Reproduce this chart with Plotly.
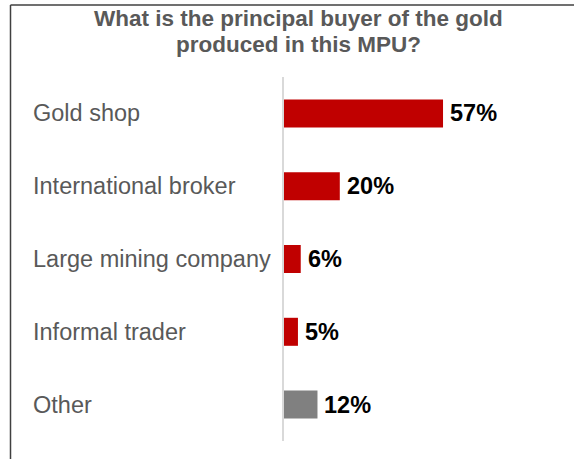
import plotly.graph_objects as go

# Survey answers: principal buyer of gold produced in the MPU
categories = ["Gold shop", "International broker", "Large mining company", "Informal trader", "Other"]
shares = [57, 20, 6, 5, 12]

title_lines = ["What is the principal buyer of the gold", "produced in this MPU?"]

RED = "#C00000"
GREY = "#808080"
bar_colors = [RED, RED, RED, RED, GREY]

FIG_W, FIG_H = 574, 459
L, R, T, B = 284, 11, 77, 18
PW, PH = FIG_W - L - R, FIG_H - T - B


def px_x(x):
    return (x - L) / PW


def px_y(y):
    return (T + PH - y) / PH


FONT = "Liberation Sans, Arial, sans-serif"

fig = go.Figure(
    go.Bar(
        x=shares,
        y=categories,
        orientation="h",
        marker=dict(color=bar_colors, line=dict(width=0)),
        cliponaxis=False,
        hoverinfo="skip",
    )
)

annotations = []
# category names, left-aligned in the margin
for cat in categories:
    annotations.append(dict(
        x=px_x(31), xref="paper", xanchor="left",
        y=cat, yref="y", yanchor="middle",
        text=cat, showarrow=False,
        font=dict(family=FONT, size=23.5, color="#595959"),
    ))

# value labels just past the end of each bar
for cat, v in zip(categories, shares):
    annotations.append(dict(
        x=v, xref="x", xanchor="left", xshift=5,
        y=cat, yref="y", yanchor="middle",
        text=f"<b>{v}%</b>", showarrow=False,
        font=dict(family=FONT, size=23.5, color="#000000"),
    ))

for i, line in enumerate(title_lines):
    annotations.append(dict(
        x=px_x(298), xref="paper", xanchor="center",
        y=px_y(19 + i * 25), yref="paper", yanchor="middle",
        text=f"<b>{line}</b>", showarrow=False,
        font=dict(family=FONT, size=22.5, color="#595959"),
    ))

frame_color = "#404040"
shapes = [
    dict(type="line", xref="paper", yref="paper",
         x0=px_x(10.5), x1=px_x(10.5), y0=px_y(5), y1=px_y(470),
         line=dict(color=frame_color, width=1.5)),
    dict(type="line", xref="paper", yref="paper",
         x0=px_x(10.5), x1=px_x(590), y0=px_y(5), y1=px_y(5),
         line=dict(color=frame_color, width=1.5)),
]

fig.update_layout(
    width=FIG_W, height=FIG_H,
    margin=dict(l=L, r=R, t=T, b=B, pad=0),
    paper_bgcolor="white", plot_bgcolor="white",
    showlegend=False,
    bargap=0.615,
    annotations=annotations,
    shapes=shapes,
    xaxis=dict(range=[0, 100], visible=False, fixedrange=True),
    yaxis=dict(
        autorange="reversed", showticklabels=False, ticks="",
        showline=True, linecolor="#d9d9d9", linewidth=1.5,
        showgrid=False, zeroline=False, fixedrange=True,
    ),
)

fig.write_html("out.html")
